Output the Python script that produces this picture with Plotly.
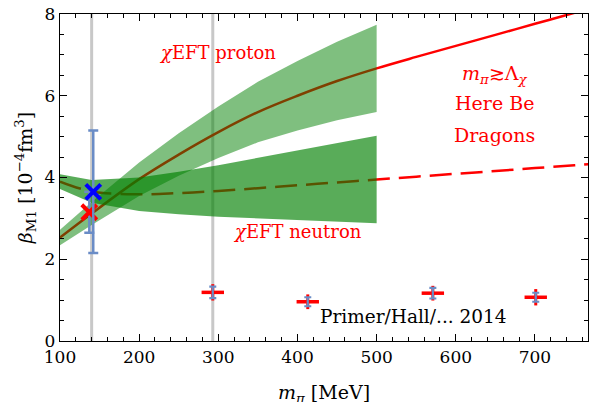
import plotly.graph_objects as go

# --- chiral EFT curves (beta_M1 in 10^-4 fm^3 vs pion mass in MeV) ---
m_curve = [100, 140, 200, 250, 300, 350, 400, 450, 500, 550, 600, 650, 700, 750, 770]
proton_central = [2.53, 3.12, 3.96, 4.56, 5.11, 5.60, 6.00, 6.36, 6.67, 6.95, 7.22, 7.49, 7.76, 8.03, 8.14]
neutron_central = [3.90, 3.66, 3.59, 3.62, 3.67, 3.74, 3.81, 3.88, 3.95, 4.02, 4.09, 4.16, 4.23, 4.30, 4.33]

# --- uncertainty bands (only up to 500 MeV) ---
m_band = [100, 140, 200, 250, 300, 350, 400, 450, 500]
proton_upper = [2.72, 3.40, 4.37, 5.08, 5.74, 6.34, 6.85, 7.32, 7.74]
proton_lower = [2.34, 2.84, 3.55, 4.04, 4.48, 4.86, 5.15, 5.40, 5.60]
neutron_upper = [4.08, 3.94, 4.00, 4.14, 4.30, 4.48, 4.66, 4.84, 5.02]
neutron_lower = [3.72, 3.38, 3.18, 3.10, 3.04, 3.00, 2.96, 2.92, 2.88]

# --- lattice results ---
m_lattice = [293, 413, 571, 701]
beta_lattice = [1.19, 0.96, 1.17, 1.07]
err_lattice_outer = [0.20, 0.18, 0.18, 0.20]
err_lattice_inner = [0.14, 0.11, 0.13, 0.11]

# --- physical point extractions ---
m_phys_red, beta_phys_red, err_phys_red = [137], [3.15], [0.50]
m_phys_blue, beta_phys_blue, err_phys_blue = [142], [3.65], [1.50]

# vertical guides at the physical and lightest lattice pion masses
guide_masses = [140, 293]

x_range = [100, 767]
y_range = [0, 8]

RED = "#ff0000"
ERR_BLUE = "#6a8cc6"
FONT = "DejaVu Serif"

fig = go.Figure()

for gm in guide_masses:
    fig.add_trace(go.Scatter(x=[gm, gm], y=y_range, mode="lines",
                             line=dict(color="#c8c8c8", width=3),
                             hoverinfo="skip", showlegend=False))

# central curves (drawn first so the translucent bands tint them)
fig.add_trace(go.Scatter(x=m_curve, y=proton_central, mode="lines",
                         line=dict(color=RED, width=2.5, shape="spline"),
                         showlegend=False))
fig.add_trace(go.Scatter(x=m_curve, y=neutron_central, mode="lines",
                         line=dict(color=RED, width=2.5, dash="22px,9px", shape="spline"),
                         showlegend=False))

# bands as closed polygons
fig.add_trace(go.Scatter(x=m_band + m_band[::-1],
                         y=proton_upper + proton_lower[::-1],
                         mode="lines", fill="toself",
                         fillcolor="rgba(0,128,0,0.5)", line=dict(width=0),
                         hoverinfo="skip", showlegend=False))
fig.add_trace(go.Scatter(x=m_band + m_band[::-1],
                         y=neutron_upper + neutron_lower[::-1],
                         mode="lines", fill="toself",
                         fillcolor="rgba(0,128,0,0.65)", line=dict(width=0),
                         hoverinfo="skip", showlegend=False))

# lattice points: red outer bar + dash, blue inner bar on top
fig.add_trace(go.Scatter(x=m_lattice, y=beta_lattice, mode="markers",
                         marker=dict(symbol="line-ew", size=16, color=RED,
                                     line=dict(color=RED, width=3.5)),
                         error_y=dict(type="data", array=err_lattice_outer,
                                      color=RED, thickness=3, width=0),
                         showlegend=False))
fig.add_trace(go.Scatter(x=m_lattice, y=beta_lattice, mode="markers",
                         marker=dict(size=1, color="rgba(0,0,0,0)"),
                         error_y=dict(type="data", array=err_lattice_inner,
                                      color=ERR_BLUE, thickness=2.2, width=3.5),
                         showlegend=False))

# physical-point values with crosses
fig.add_trace(go.Scatter(x=m_phys_red, y=beta_phys_red, mode="markers",
                         marker=dict(symbol="x-thin", size=15, color=RED,
                                     line=dict(color=RED, width=4)),
                         error_y=dict(type="data", array=err_phys_red,
                                      color=ERR_BLUE, thickness=2.5, width=5),
                         showlegend=False))
fig.add_trace(go.Scatter(x=m_phys_blue, y=beta_phys_blue, mode="markers",
                         marker=dict(symbol="x-thin", size=15, color="#0000ff",
                                     line=dict(color="#0000ff", width=4)),
                         error_y=dict(type="data", array=err_phys_blue,
                                      color=ERR_BLUE, thickness=2.5, width=5),
                         showlegend=False))

def note(text, x, y, color=RED, size=18):
    fig.add_annotation(x=x, y=y, text=text, showarrow=False,
                       font=dict(family=FONT, size=size, color=color),
                       xanchor="center", yanchor="middle")

note("<i>χ</i>EFT proton", 299, 7.07)
note("<i>χ</i>EFT neutron", 400, 2.67)
note("<i>m</i><sub><i>π</i></sub>≳Λ<sub><i>χ</i></sub>", 649, 6.51, size=19)
note("Here Be", 649, 5.82, size=19)
note("Dragons", 649, 5.04, size=19)
note("Primer/Hall/... 2014", 547, 0.59, color="black", size=18.5)

# x-axis title sits low, partly past the bottom edge of the page
fig.add_annotation(x=0.5, y=-0.16, xref="paper", yref="paper",
                   text="<i>m</i><sub><i>π</i></sub> [MeV]", showarrow=False,
                   font=dict(family=FONT, size=19, color="black"),
                   xanchor="center", yanchor="middle")

axis_common = dict(
    showline=True, linecolor="black", linewidth=1.3, mirror="ticks",
    ticks="inside", ticklen=7, tickwidth=1, tickcolor="black",
    showgrid=False, zeroline=False, automargin=False,
    tickfont=dict(family=FONT, size=17, color="black"),
)

fig.update_xaxes(range=x_range, dtick=100, tick0=100,
                 minor=dict(dtick=20, ticks="inside", ticklen=4, tickcolor="black"),
                 **axis_common)
fig.update_yaxes(range=y_range, dtick=2,
                 minor=dict(dtick=0.5, ticks="inside", ticklen=4, tickcolor="black"),
                 title=dict(text="<i>β</i><sub>M1</sub> [10<sup>−4</sup>fm<sup>3</sup>]",
                            font=dict(family=FONT, size=19, color="black"), standoff=6),
                 **axis_common)

fig.update_layout(width=589, height=402,
                  margin=dict(l=60, r=1, t=14, b=61),
                  paper_bgcolor="white", plot_bgcolor="white")

fig.write_html("out.html")
